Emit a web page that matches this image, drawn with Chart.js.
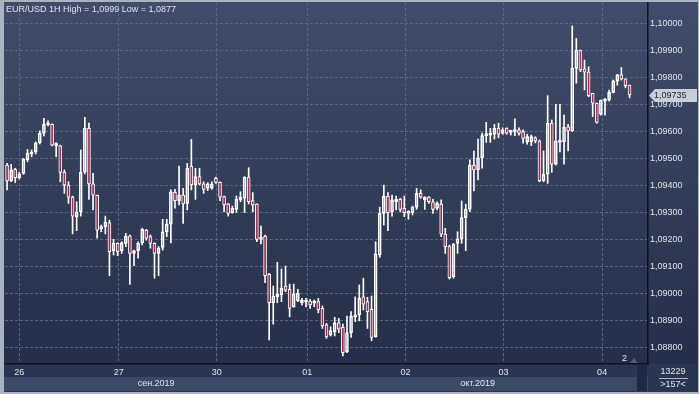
<!DOCTYPE html>
<html>
<head>
<meta charset="utf-8">
<script src="https://cdn.jsdelivr.net/npm/chart.js@4/dist/chart.umd.min.js"></script>
<style>
html,body{margin:0;padding:0;background:#aab3c1;}
#c{display:block;}
</style>
</head>
<body>
<canvas id="c" width="699" height="394"></canvas>
<script>
// ---- data (EUR/USD H1) ----
const opens = [
1.09475,1.09417,1.09459,1.09428,1.09444,1.09494,1.09515,1.09524,1.09558,1.09593,
1.09624,1.09626,1.09546,1.09546,1.09449,1.09401,1.09356,1.09284,1.09302,1.09450,
1.09611,1.09405,1.09363,1.09239,1.09247,1.09261,1.09158,1.09185,1.09158,1.09185,
1.09213,1.09148,1.09158,1.09187,1.09234,1.09210,1.09185,1.09148,1.09170,1.09228,
1.09256,1.09374,1.09343,1.09364,1.09333,1.09471,1.09401,1.09432,1.09405,1.09389,
1.09389,1.09426,1.09411,1.09358,1.09331,1.09299,1.09311,1.09346,1.09352,1.09430,
1.09343,1.09330,1.09200,1.09212,1.09070,1.08965,1.08987,1.08994,1.09027,1.09015,
1.08950,1.08973,1.08965,1.08967,1.08971,1.08963,1.08969,1.08944,1.08883,1.08846,
1.08858,1.08891,1.08874,1.08784,1.08854,1.08913,1.08920,1.08987,1.08969,1.08941,
1.08839,1.09142,1.09296,1.09360,1.09302,1.09339,1.09348,1.09315,1.09296,1.09299,
1.09319,1.09370,1.09346,1.09356,1.09339,1.09315,1.09330,1.09219,1.09173,1.09061,
1.09185,1.09201,1.09280,1.09312,1.09475,1.09457,1.09502,1.09584,1.09586,1.09589,
1.09611,1.09593,1.09611,1.09596,1.09599,1.09605,1.09599,1.09561,1.09561,1.09576,
1.09564,1.09417,1.09441,1.09630,1.09478,1.09559,1.09561,1.09617,1.09601,1.09833,
1.09901,1.09831,1.09819,1.09741,1.09704,1.09663,1.09712,1.09716,1.09744,1.09786,
1.09809,1.09794,1.09771];
const highs = [
1.09481,1.09478,1.09463,1.09449,1.09500,1.09533,1.09531,1.09561,1.09602,1.09648,
1.09639,1.09628,1.09558,1.09549,1.09457,1.09413,1.09360,1.09339,1.09531,1.09652,
1.09630,1.09444,1.09364,1.09253,1.09286,1.09271,1.09200,1.09187,1.09191,1.09222,
1.09216,1.09160,1.09191,1.09241,1.09237,1.09216,1.09187,1.09173,1.09274,1.09274,
1.09383,1.09385,1.09471,1.09389,1.09481,1.09570,1.09463,1.09463,1.09413,1.09410,
1.09413,1.09430,1.09413,1.09360,1.09333,1.09323,1.09360,1.09376,1.09432,1.09465,
1.09373,1.09331,1.09249,1.09216,1.09074,1.09027,1.09115,1.09090,1.09101,1.09034,
1.09034,1.09015,1.08981,1.08981,1.08978,1.08975,1.08981,1.08953,1.08889,1.08876,
1.08911,1.08907,1.08886,1.08916,1.08932,1.08987,1.09031,1.09056,1.08985,1.08990,
1.09191,1.09319,1.09401,1.09373,1.09364,1.09360,1.09352,1.09360,1.09306,1.09323,
1.09389,1.09383,1.09358,1.09358,1.09348,1.09339,1.09346,1.09241,1.09179,1.09185,
1.09228,1.09342,1.09330,1.09494,1.09527,1.09571,1.09593,1.09633,1.09611,1.09626,
1.09630,1.09613,1.09613,1.09601,1.09646,1.09613,1.09605,1.09589,1.09586,1.09580,
1.09568,1.09527,1.09732,1.09642,1.09700,1.09700,1.09660,1.09626,1.09990,1.09944,
1.09901,1.09864,1.09839,1.09741,1.09705,1.09716,1.09722,1.09753,1.09790,1.09811,
1.09836,1.09794,1.09771];
const lows = [
1.09383,1.09413,1.09410,1.09423,1.09441,1.09487,1.09506,1.09516,1.09553,1.09583,
1.09620,1.09546,1.09506,1.09413,1.09370,1.09333,1.09220,1.09232,1.09286,1.09442,
1.09348,1.09309,1.09204,1.09228,1.09220,1.09065,1.09142,1.09139,1.09148,1.09173,
1.09033,1.09102,1.09130,1.09179,1.09197,1.09167,1.09056,1.09065,1.09160,1.09210,
1.09187,1.09315,1.09327,1.09259,1.09309,1.09383,1.09348,1.09401,1.09370,1.09380,
1.09385,1.09407,1.09343,1.09302,1.09286,1.09296,1.09299,1.09339,1.09299,1.09331,
1.09302,1.09191,1.09183,1.09039,1.08827,1.08886,1.08965,1.08969,1.09006,1.08913,
1.08948,1.08969,1.08957,1.08950,1.08944,1.08950,1.08928,1.08870,1.08833,1.08842,
1.08842,1.08854,1.08768,1.08780,1.08837,1.08895,1.08898,1.08938,1.08870,1.08824,
1.08837,1.09133,1.09253,1.09232,1.09286,1.09309,1.09302,1.09284,1.09274,1.09290,
1.09311,1.09352,1.09311,1.09333,1.09296,1.09309,1.09210,1.09148,1.09053,1.09056,
1.09148,1.09185,1.09158,1.09302,1.09379,1.09420,1.09463,1.09559,1.09559,1.09571,
1.09576,1.09589,1.09589,1.09586,1.09584,1.09586,1.09556,1.09552,1.09547,1.09557,
1.09413,1.09413,1.09407,1.09448,1.09475,1.09524,1.09478,1.09527,1.09599,1.09778,
1.09821,1.09753,1.09728,1.09654,1.09630,1.09660,1.09660,1.09712,1.09742,1.09771,
1.09790,1.09761,1.09724];
const closes = [
1.09416,1.09457,1.09428,1.09441,1.09496,1.09519,1.09521,1.09556,1.09593,1.09626,
1.09630,1.09549,1.09556,1.09448,1.09401,1.09356,1.09286,1.09300,1.09448,1.09611,
1.09405,1.09363,1.09234,1.09247,1.09263,1.09154,1.09185,1.09154,1.09187,1.09212,
1.09148,1.09157,1.09185,1.09237,1.09204,1.09185,1.09148,1.09167,1.09228,1.09256,
1.09376,1.09343,1.09364,1.09331,1.09463,1.09401,1.09432,1.09405,1.09385,1.09405,
1.09405,1.09411,1.09356,1.09327,1.09296,1.09315,1.09348,1.09356,1.09430,1.09339,
1.09327,1.09200,1.09206,1.09065,1.08965,1.08990,1.08997,1.09019,1.09012,1.08944,
1.08997,1.09000,1.08975,1.08969,1.08957,1.08971,1.08938,1.08879,1.08839,1.08862,
1.08891,1.08867,1.08780,1.08854,1.08916,1.08920,1.08981,1.08960,1.08932,1.08837,
1.09146,1.09296,1.09360,1.09299,1.09346,1.09348,1.09311,1.09299,1.09302,1.09319,
1.09370,1.09356,1.09356,1.09339,1.09311,1.09333,1.09219,1.09173,1.09058,1.09181,
1.09201,1.09280,1.09312,1.09475,1.09457,1.09502,1.09584,1.09589,1.09593,1.09611,
1.09589,1.09605,1.09593,1.09599,1.09605,1.09593,1.09574,1.09580,1.09580,1.09564,
1.09417,1.09441,1.09630,1.09478,1.09564,1.09564,1.09615,1.09601,1.09833,1.09901,
1.09827,1.09819,1.09732,1.09704,1.09633,1.09716,1.09719,1.09744,1.09786,1.09809,
1.09794,1.09769,1.09735];

const priceTicks = [1.088,1.089,1.090,1.091,1.092,1.093,1.094,1.095,1.096,1.097,1.098,1.099,1.100];
const dayTickPos = [3, 27.3, 51.2, 73.3, 97.3, 121.2, 145.3];   // bar index of each day start
const dayLabels = ['26','27','30','01','02','03','04'];
const monthLabels = ['сен.2019','окт.2019'];
const monthSpans = [[-0.5, 73.3], [73.3, 156.5]];
const titleText = 'EUR/USD 1H High = 1,0999 Low = 1,0877';
const lastPrice = 1.09735;
const visibleBars = 157;
const cornerTop = '13229';

// ---- helpers ----
const fmt = v => v.toFixed(5).replace('.', ',');
const idx = opens.map((_, i) => i);
const bodyData = idx.map(i => ({x: i, y: [Math.min(opens[i], closes[i]), Math.max(opens[i], closes[i])]}));
const upWick = idx.map(i => ({x: i, y: [Math.max(opens[i], closes[i]), highs[i]]}));
const loWick = idx.map(i => ({x: i, y: [lows[i], Math.min(opens[i], closes[i])]}));
const bear = idx.map(i => closes[i] < opens[i]);

const FONT = 'Liberation Sans, Arial, sans-serif';
const TXT = '#dfe3ea';
const GRID = '#5a6685';

const bgPlugin = {
  id: 'bg',
  beforeDraw(chart) {
    const ctx = chart.ctx;
    const W = chart.width, H = chart.height;
    ctx.save();
    ctx.fillStyle = '#aab3c1';
    ctx.fillRect(0, 0, W, H);
    const g = ctx.createLinearGradient(0, 3, 0, 364);
    g.addColorStop(0, '#404c69');
    g.addColorStop(1, '#252f49');
    ctx.fillStyle = g;
    ctx.fillRect(4, 2, W - 5, 362);
    ctx.fillStyle = '#2a3651';
    ctx.fillRect(4, 364, W - 5, 28);
    ctx.fillStyle = '#3b4966';
    ctx.fillRect(4, 377, 644, 14);
    ctx.fillStyle = '#1f2a42';
    ctx.fillRect(637, 365, 10, 26);
    ctx.restore();
  },
  afterDraw(chart) {
    const ctx = chart.ctx;
    const xs = chart.scales.x, ys = chart.scales.y;
    ctx.save();
    ctx.font = '9px ' + FONT;
    ctx.fillStyle = TXT;
    ctx.textBaseline = 'middle';
    ctx.textAlign = 'left';
    ctx.fillText(titleText, 6, 10);
    ctx.textAlign = 'center';
    monthLabels.forEach((m, i) => {
      const a = Math.max(xs.getPixelForValue(monthSpans[i][0]), xs.left);
      const b = Math.min(xs.getPixelForValue(monthSpans[i][1]), xs.right);
      ctx.fillText(m, (a + b) / 2, 384);
    });
    ctx.fillText(cornerTop, 673, 372);
    ctx.fillText('>' + visibleBars + '<', 673, 384.5);
    ctx.strokeStyle = '#aab3c1';
    ctx.lineWidth = 1;
    ctx.beginPath(); ctx.moveTo(659, 378.5); ctx.lineTo(688, 378.5); ctx.stroke();
    ctx.textAlign = 'left';
    ctx.fillText('2', 622, 359);
    ctx.fillStyle = '#4d5a78';
    ctx.beginPath(); ctx.moveTo(630, 363); ctx.lineTo(634, 358); ctx.lineTo(638, 363); ctx.closePath(); ctx.fill();
    const y = Math.round(ys.getPixelForValue(lastPrice)) + 0.5;
    ctx.fillStyle = '#c9cdd5';
    ctx.beginPath();
    ctx.moveTo(649, y);
    ctx.lineTo(655, y - 6.5);
    ctx.lineTo(697, y - 6.5);
    ctx.lineTo(697, y + 6.5);
    ctx.lineTo(655, y + 6.5);
    ctx.closePath();
    ctx.fill();
    ctx.fillStyle = '#1c2335';
    ctx.fillText(fmt(lastPrice), 654, y);
    ctx.restore();
  }
};

new Chart(document.getElementById('c'), {
  type: 'bar',
  data: {
    datasets: [
      {
        label: 'body', data: bodyData, grouped: false, barThickness: 3, minBarLength: 2,
        borderWidth: 1, borderSkipped: false, borderColor: '#ffffff',
        backgroundColor: ctx => bear[ctx.dataIndex] ? '#b3294f' : 'rgba(0,0,0,0)'
      },
      { label: 'up', data: upWick, grouped: false, barThickness: 1, backgroundColor: '#ffffff', borderWidth: 0 },
      { label: 'lo', data: loWick, grouped: false, barThickness: 1, backgroundColor: '#ffffff', borderWidth: 0 }
    ]
  },
  options: {
    responsive: false,
    animation: false,
    devicePixelRatio: 1,
    layout: { padding: { left: 5, top: 3, right: 0, bottom: 0 } },
    plugins: { legend: { display: false }, tooltip: { enabled: false }, title: { display: false } },
    scales: {
      x: {
        type: 'linear', bounds: 'data', offset: false, min: -0.5, max: visibleBars - 0.5,
        afterBuildTicks: s => { s.ticks = dayTickPos.map(v => ({ value: v })); },
        afterFit: s => { s.height = 30; s.paddingLeft = 0; s.paddingRight = 0; },
        ticks: { autoSkip: false, maxRotation: 0, padding: 3, color: TXT, font: { size: 9, family: FONT },
                 callback: (v, i) => dayLabels[i] },
        grid: { color: GRID, drawTicks: false, offset: false },
        border: { display: true, color: '#0c1222', width: 1.5, dash: [3, 2] }
      },
      y: {
        type: 'linear', position: 'right', bounds: 'data',
        min: 1.1 - (364 - 23.3) / 27000, max: 1.1 + (23.3 - 3) / 27000,
        afterBuildTicks: s => { s.ticks = priceTicks.map(v => ({ value: v })); },
        afterFit: s => { s.width = 51; s.paddingTop = 0; s.paddingBottom = 0; },
        ticks: { padding: 2, color: TXT, font: { size: 9, family: FONT }, callback: v => fmt(v) },
        grid: { color: GRID, drawTicks: false },
        border: { display: true, color: '#0c1222', width: 1.5, dash: [3, 2] }
      }
    }
  },
  plugins: [bgPlugin]
});
</script>
</body>
</html>
